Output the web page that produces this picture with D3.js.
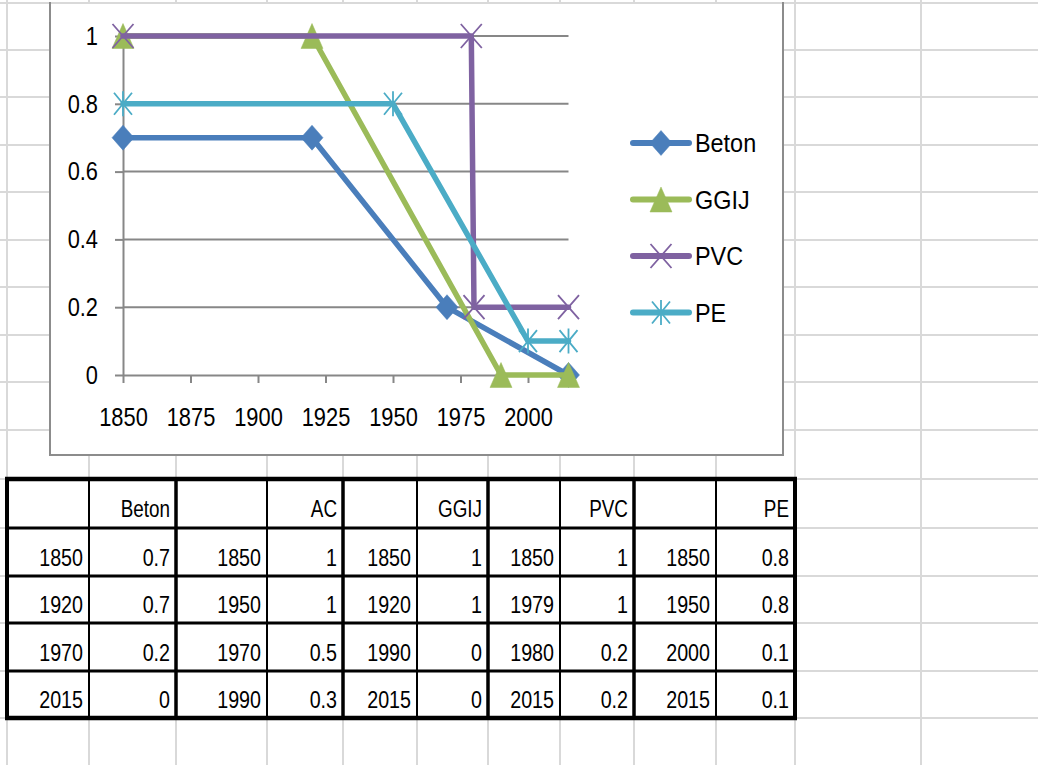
<!DOCTYPE html>
<html><head><meta charset="utf-8">
<script src="https://cdn.jsdelivr.net/npm/d3@7"></script>
<style>
html,body{margin:0;padding:0;background:#fff;overflow:hidden}
svg{display:block}
text{font-family:"Liberation Sans Narrow","Liberation Sans",Arial,sans-serif;fill:#000}
</style></head><body>
<svg id="sheet" width="1038" height="765"></svg>
<script>
// ---- data: year / share pairs per pipe material ----
const betonYears = [1850, 1920, 1970, 2015];
const betonValues = [0.7, 0.7, 0.2, 0];
const acYears = [1850, 1950, 1970, 1990];
const acValues = [1, 1, 0.5, 0.3];
const ggijYears = [1850, 1920, 1990, 2015];
const ggijValues = [1, 1, 0, 0];
const pvcYears = [1850, 1979, 1980, 2015];
const pvcValues = [1, 1, 0.2, 0.2];
const peYears = [1850, 1950, 2000, 2015];
const peValues = [0.8, 0.8, 0.1, 0.1];

const xTickYears = [1850, 1875, 1900, 1925, 1950, 1975, 2000];
const yTickValues = [0, 0.2, 0.4, 0.6, 0.8, 1];
const xDomain = [1850, 2015];
const yDomain = [0, 1];

// table blocks (in column order) and plotted series (in draw order)
const tableBlocks = [
  {name: "Beton", years: betonYears, values: betonValues},
  {name: "AC", years: acYears, values: acValues},
  {name: "GGIJ", years: ggijYears, values: ggijValues},
  {name: "PVC", years: pvcYears, values: pvcValues},
  {name: "PE", years: peYears, values: peValues}
];
const chartSeries = [
  {name: "Beton", years: betonYears, values: betonValues, color: "#4A7EBB", marker: "diamond"},
  {name: "GGIJ", years: ggijYears, values: ggijValues, color: "#9BBB59", marker: "triangle"},
  {name: "PVC", years: pvcYears, values: pvcValues, color: "#7F62A1", marker: "x"},
  {name: "PE", years: peYears, values: peValues, color: "#4BACC6", marker: "star"}
];

// ---- worksheet layout ----
const W = 1038, H = 765;
const colEdges = [7, 89, 176, 267, 343, 417, 488, 560, 634, 716, 795, 921];
const rowEdges = [3, 50, 97, 145, 192, 240, 287, 335, 382, 430, 479, 528, 576, 623, 671, 718, 766];
const tableTop = 10, tableBottom = 15; // indices into rowEdges
const svg = d3.select("#sheet");

// condensed look for the sheet font: squeeze each label horizontally
function squeeze(sel, k) {
  sel.each(function () {
    const w = this.getComputedTextLength();
    d3.select(this).attr("textLength", w * k).attr("lengthAdjust", "spacingAndGlyphs");
  });
}
const K = 0.82;

// light cell gridlines
const grid = svg.append("g").attr("stroke", "#d9d9d9").attr("stroke-width", 2);
grid.selectAll("line.h").data(rowEdges).join("line").attr("class", "h")
  .attr("x1", 0).attr("x2", W).attr("y1", d => d).attr("y2", d => d);
grid.selectAll("line.v").data(colEdges).join("line").attr("class", "v")
  .attr("x1", d => d).attr("x2", d => d).attr("y1", 0).attr("y2", H);

// ---- chart object ----
const box = {left: 50, right: 783, top: 4, bottom: 455};
svg.append("rect").attr("x", box.left).attr("y", box.top)
  .attr("width", box.right - box.left).attr("height", box.bottom - box.top).attr("fill", "#fff");
svg.append("path")
  .attr("d", `M${box.left},2V${box.bottom}H${box.right}V2`)
  .attr("fill", "none").attr("stroke", "#8c8c8c").attr("stroke-width", 2);

const x = d3.scaleLinear().domain(xDomain).range([123, 568.5]);
const y = d3.scaleLinear().domain(yDomain).range([375, 36]);
const axisColor = "#878787";

// horizontal gridlines
svg.append("g").selectAll("line").data(yTickValues.filter(v => v > 0)).join("line")
  .attr("x1", x(xDomain[0])).attr("x2", x(xDomain[1]))
  .attr("y1", d => y(d)).attr("y2", d => y(d))
  .attr("stroke", axisColor).attr("stroke-width", 2);

const yAxis = svg.append("g").attr("transform", `translate(${x(xDomain[0])},0)`)
  .call(d3.axisLeft(y).tickValues(yTickValues).tickFormat(d3.format("~g"))
    .tickSizeInner(8).tickSizeOuter(0).tickPadding(17));
const xAxis = svg.append("g").attr("transform", `translate(0,${y(0)})`)
  .call(d3.axisBottom(x).tickValues(xTickYears).tickFormat(d3.format("d"))
    .tickSizeInner(8).tickSizeOuter(0).tickPadding(25));
[yAxis, xAxis].forEach(a => {
  a.selectAll("path,line").attr("stroke", axisColor).attr("stroke-width", 2);
  a.selectAll("text").attr("font-size", 26).attr("fill", "#000")
    .style("font-family", '"Liberation Sans Narrow","Liberation Sans",Arial,sans-serif')
    .call(squeeze, 0.84);
});

// marker shapes
function markerPath(kind) {
  switch (kind) {
    case "diamond": return "M0,-12.5L11,0L0,12.5L-11,0Z";
    case "triangle": return "M0,-12.5L11,12.5L-11,12.5Z";
    case "x": return "M-10.5,-12L10.5,12M10.5,-12L-10.5,12";
    case "star": return "M-9,-11L9,11M9,-11L-9,11M0,-12.5L0,12.5";
  }
}
function drawMarker(g, kind, color) {
  const filled = kind === "diamond" || kind === "triangle";
  g.append("path").attr("d", markerPath(kind))
    .attr("fill", filled ? color : "none")
    .attr("stroke", color).attr("stroke-width", filled ? 0.5 : 1.8);
}

const line = d3.line().x(d => x(d[0])).y(d => y(d[1]));
chartSeries.forEach(s => {
  const pts = d3.zip(s.years, s.values);
  const g = svg.append("g");
  g.append("path").attr("d", line(pts)).attr("fill", "none")
    .attr("stroke", s.color).attr("stroke-width", 5.5)
    .attr("stroke-linejoin", "round").attr("stroke-linecap", "round");
  pts.forEach(p => {
    drawMarker(g.append("g").attr("transform", `translate(${x(p[0])},${y(p[1])})`), s.marker, s.color);
  });
});

// legend
const legend = svg.append("g");
chartSeries.forEach((s, i) => {
  const ly = 143 + i * 56.5;
  const g = legend.append("g").attr("transform", `translate(633,${ly})`);
  g.append("line").attr("x1", 0).attr("x2", 56).attr("y1", 0).attr("y2", 0)
    .attr("stroke", s.color).attr("stroke-width", 6).attr("stroke-linecap", "round");
  drawMarker(g.append("g").attr("transform", "translate(28,0)"), s.marker, s.color);
  g.append("text").attr("x", 62).attr("y", 9).attr("font-size", 26).text(s.name).call(squeeze, 0.9);
});

// ---- data table ----
const tTop = rowEdges[tableTop], tBot = rowEdges[tableBottom];
const tLeft = colEdges[0], tRight = colEdges[10];
svg.append("rect").attr("x", tLeft).attr("y", tTop)
  .attr("width", tRight - tLeft).attr("height", tBot - tTop).attr("fill", "#fff");

const cells = [];
tableBlocks.forEach((b, bi) => {
  const cYear = bi * 2, cVal = bi * 2 + 1;
  cells.push({col: cVal, row: 0, text: b.name, head: true});
  b.years.forEach((yr, ri) => {
    cells.push({col: cYear, row: ri + 1, text: String(yr)});
    cells.push({col: cVal, row: ri + 1, text: String(b.values[ri])});
  });
});
svg.append("g").selectAll("text").data(cells).join("text")
  .attr("x", d => colEdges[d.col + 1] - 6)
  .attr("y", d => rowEdges[tableTop + d.row + 1] - (d.head ? 11 : 10))
  .attr("text-anchor", "end")
  .attr("font-size", d => d.head ? 23 : 24)
  .text(d => d.text)
  .call(squeeze, K);

const borders = svg.append("g").attr("stroke", "#000");
const tableRows = rowEdges.slice(tableTop, tableBottom + 1);
borders.selectAll("line.h").data(tableRows).join("line").attr("class", "h")
  .attr("x1", tLeft - 2).attr("x2", tRight + 2)
  .attr("y1", d => d).attr("y2", d => d)
  .attr("stroke-width", (d, i) => (i === 0 || i === tableRows.length - 1) ? 4.5 : 3);
const tableCols = colEdges.slice(0, 11);
borders.selectAll("line.v").data(tableCols).join("line").attr("class", "v")
  .attr("x1", d => d).attr("x2", d => d).attr("y1", tTop).attr("y2", tBot)
  .attr("stroke-width", (d, i) => (i === 0 || i === 10) ? 4 : (i % 2 === 0 ? 3.5 : 2));
</script>
</body></html>
